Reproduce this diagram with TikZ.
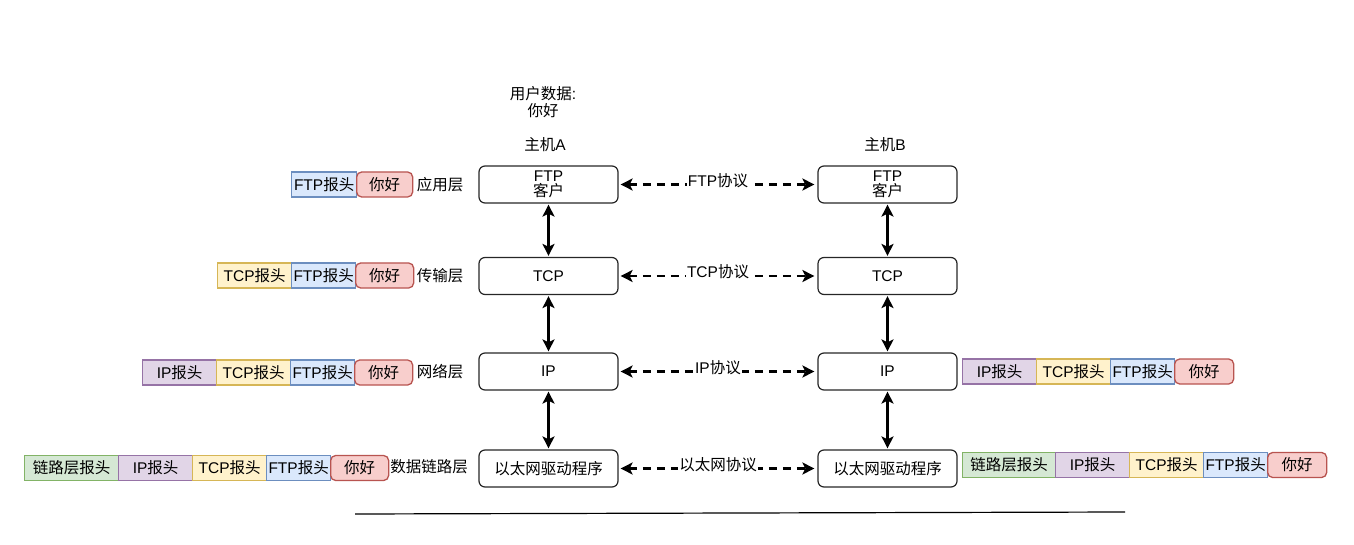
\documentclass[tikz,border=0pt]{standalone}
\usepackage{fontspec}
\setmainfont{Liberation Sans}
\newfontfamily\cjk{Noto Sans CJK SC}
\usetikzlibrary{arrows.meta}
\definecolor{bluef}{HTML}{DAE8FC}\definecolor{blued}{HTML}{6C8EBF}
\definecolor{redf}{HTML}{F8CECC}\definecolor{redd}{HTML}{B85450}
\definecolor{yelf}{HTML}{FFF2CC}\definecolor{yeld}{HTML}{D6B656}
\definecolor{purf}{HTML}{E1D5E7}\definecolor{purd}{HTML}{9673A6}
\definecolor{grnf}{HTML}{D5E8D4}\definecolor{grnd}{HTML}{82B366}
\tikzset{
  layerbox/.style={draw=black!85, line width=1.2pt, rounded corners=6pt, minimum width=139pt, minimum height=37pt, align=center, inner sep=0pt},
  cell/.style={line width=1.3pt, minimum height=25pt, anchor=west, inner sep=0pt, align=center},
  ftpc/.style={cell, draw=blued, fill=bluef},
  datac/.style={cell, draw=redd, fill=redf, rounded corners=5pt},
  tcpc/.style={cell, draw=yeld, fill=yelf},
  ipc/.style={cell, draw=purd, fill=purf},
  linkc/.style={cell, draw=grnd, fill=grnf},
  plain/.style={inner sep=0pt, align=center},
  vert/.style={line width=2.4pt, {Stealth[length=12pt,width=12pt,inset=3pt]}-{Stealth[length=12pt,width=12pt,inset=3pt]}, shorten >=1pt, shorten <=1pt},
  proto/.style={line width=2.2pt, dash pattern=on 8pt off 6pt, {Stealth[length=12pt,width=12pt,inset=3pt]}-{Stealth[length=12pt,width=12pt,inset=3pt]}, shorten >=3pt, shorten <=2pt},
  plabel/.style={fill=white, inner sep=1pt, yshift=4pt}
}
\begin{document}
\begin{tikzpicture}[x=1pt, y=-1pt, font=\fontsize{15.5}{17}\selectfont]
\useasboundingbox (0,0) rectangle (1354,545);
% titles
\node[plain] (ud) at (543,102) {{\cjk 用户数据}:\\{\cjk 你好}};
\node[plain] (ha) at (545,145) {{\cjk 主机}A};
\node[plain] (hb) at (885,145) {{\cjk 主机}B};
% host A
\node[layerbox] (a1) at (548.5,184.5) {FTP\\[-2pt]{\cjk 客户}};
\node[layerbox] (a2) at (548.5,276) {TCP};
\node[layerbox] (a3) at (548.5,371.5) {IP};
\node[layerbox] (a4) at (548.5,468.5) {{\cjk 以太网驱动程序}};
% host B
\node[layerbox] (b1) at (887.5,184.5) {FTP\\[-2pt]{\cjk 客户}};
\node[layerbox] (b2) at (887.5,276) {TCP};
\node[layerbox] (b3) at (887.5,371.5) {IP};
\node[layerbox] (b4) at (887.5,468.5) {{\cjk 以太网驱动程序}};
% vertical arrows
\draw[vert] (a1.south) -- (a2.north);
\draw[vert] (a2.south) -- (a3.north);
\draw[vert] (a3.south) -- (a4.north);
\draw[vert] (b1.south) -- (b2.north);
\draw[vert] (b2.south) -- (b3.north);
\draw[vert] (b3.south) -- (b4.north);
% protocol arrows
\draw[proto] (a1.east) -- node[plabel] (p1) {FTP{\cjk 协议}} (b1.west);
\draw[proto] (a2.east) -- node[plabel] (p2) {TCP{\cjk 协议}} (b2.west);
\draw[proto] (a3.east) -- node[plabel] (p3) {IP{\cjk 协议}} (b3.west);
\draw[proto] (a4.east) -- node[plabel] (p4) {{\cjk 以太网协议}} (b4.west);
% left row 1
\node[ftpc, minimum width=65pt] (l1f) at (291,184.5) {FTP{\cjk 报头}};
\node[datac, minimum width=56pt] (l1d) at (356,184.5) {{\cjk 你好}};
\node[plain] (l1n) at (440,184.5) {{\cjk 应用层}};
% left row 2
\node[tcpc, minimum width=74pt] (l2t) at (217,275.5) {TCP{\cjk 报头}};
\node[ftpc, minimum width=64pt] (l2f) at (291,275.5) {FTP{\cjk 报头}};
\node[datac, minimum width=58pt] (l2d) at (355,275.5) {{\cjk 你好}};
\node[plain] (l2n) at (440,275.5) {{\cjk 传输层}};
% left row 3
\node[ipc, minimum width=74pt] (l3i) at (142,372.5) {IP{\cjk 报头}};
\node[tcpc, minimum width=74pt] (l3t) at (216,372.5) {TCP{\cjk 报头}};
\node[ftpc, minimum width=64pt] (l3f) at (290,372.5) {FTP{\cjk 报头}};
\node[datac, minimum width=58pt] (l3d) at (354,372.5) {{\cjk 你好}};
\node[plain] (l3n) at (440,371.5) {{\cjk 网络层}};
% left row 4
\node[linkc, minimum width=94pt] (l4l) at (24,468) {{\cjk 链路层报头}};
\node[ipc, minimum width=74pt] (l4i) at (118,468) {IP{\cjk 报头}};
\node[tcpc, minimum width=74pt] (l4t) at (192,468) {TCP{\cjk 报头}};
\node[ftpc, minimum width=64pt] (l4f) at (266,468) {FTP{\cjk 报头}};
\node[datac, minimum width=58pt] (l4d) at (330,468) {{\cjk 你好}};
\node[plain] (l4n) at (429,467) {{\cjk 数据链路层}};
% right row 3
\node[ipc, minimum width=74pt] (r3i) at (962,371.5) {IP{\cjk 报头}};
\node[tcpc, minimum width=74pt] (r3t) at (1036,371.5) {TCP{\cjk 报头}};
\node[ftpc, minimum width=64pt] (r3f) at (1110,371.5) {FTP{\cjk 报头}};
\node[datac, minimum width=59pt] (r3d) at (1174,371.5) {{\cjk 你好}};
% right row 4
\node[linkc, minimum width=93pt] (r4l) at (962,465) {{\cjk 链路层报头}};
\node[ipc, minimum width=74pt] (r4i) at (1055,465) {IP{\cjk 报头}};
\node[tcpc, minimum width=74pt] (r4t) at (1129,465) {TCP{\cjk 报头}};
\node[ftpc, minimum width=64pt] (r4f) at (1203,465) {FTP{\cjk 报头}};
\node[datac, minimum width=59pt] (r4d) at (1267,465) {{\cjk 你好}};
% bottom line
\coordinate (bl1) at (355,514);
\coordinate (bl2) at (1125,512);
\draw[line width=1.2pt] (bl1) -- (bl2);
\end{tikzpicture}
\end{document}
